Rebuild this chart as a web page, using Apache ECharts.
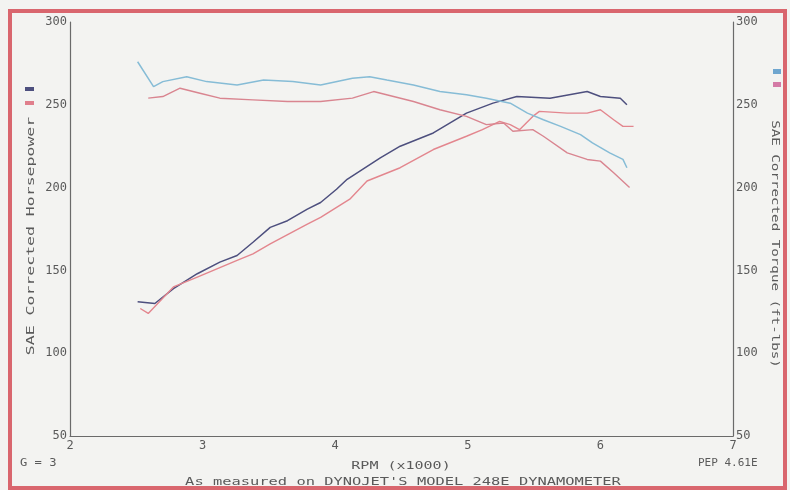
<!DOCTYPE html>
<html><head><meta charset="utf-8">
<script src="https://cdn.jsdelivr.net/npm/echarts@6/dist/echarts.min.js"></script>
<style>html,body{margin:0;padding:0;background:#f3f3f1}#c{width:790px;height:490px}</style>
</head><body><div id="c"></div>
<script>
const xTicks = [2, 3, 4, 5, 6, 7];
const yTicks = [50, 100, 150, 200, 250, 300];

const hp1Rpm = [2.51, 2.64, 2.78, 2.96, 3.13, 3.26, 3.38, 3.51, 3.64, 3.79, 3.89, 4.01, 4.09, 4.34, 4.49, 4.74, 4.99, 5.19, 5.37, 5.62, 5.90, 6.00, 6.15, 6.20];
const hp1Val = [131, 130, 139, 148, 155, 159, 167, 176, 180, 187, 191, 199, 205, 218, 225, 233, 245, 251, 255, 254, 258, 255, 254, 250];

const hp2Rpm = [2.53, 2.59, 2.78, 2.96, 3.26, 3.38, 3.51, 3.79, 3.89, 4.11, 4.24, 4.49, 4.74, 4.99, 5.11, 5.24, 5.32, 5.39, 5.49, 5.54, 5.75, 5.90, 6.00, 6.10, 6.17, 6.25];
const hp2Val = [127, 124, 140, 146, 156, 160, 166, 178, 182, 193, 204, 212, 223, 231, 235, 240, 238, 235, 243, 246, 245, 245, 247, 241, 237, 237];

const tq1Rpm = [2.51, 2.63, 2.70, 2.88, 3.03, 3.26, 3.46, 3.68, 3.89, 4.13, 4.26, 4.39, 4.59, 4.79, 4.99, 5.14, 5.32, 5.45, 5.57, 5.70, 5.85, 5.94, 6.07, 6.17, 6.20];
const tq1Val = [276, 261, 264, 267, 264, 262, 265, 264, 262, 266, 267, 265, 262, 258, 256, 254, 251, 245, 241, 237, 232, 227, 221, 217, 212];

const tq2Rpm = [2.59, 2.70, 2.83, 2.98, 3.13, 3.38, 3.64, 3.89, 4.13, 4.29, 4.44, 4.59, 4.79, 4.99, 5.14, 5.27, 5.34, 5.49, 5.57, 5.75, 5.90, 6.00, 6.10, 6.22];
const tq2Val = [254, 255, 260, 257, 254, 253, 252, 252, 254, 258, 255, 252, 247, 243, 238, 239, 234, 235, 231, 221, 217, 216, 209, 200];

const pair = (xs, ys) => xs.map((x, i) => [x, ys[i]]);
const F = 'DejaVu Sans Mono';
const TXT = '#5a5a5a';

const chart = echarts.init(document.getElementById('c'), null, {renderer: 'canvas'});
const yAxisBase = {
  type: 'value', min: 50, max: 300, interval: 50,
  axisLine: {show: true, lineStyle: {color: '#6a6a6a', width: 1.2}},
  axisTick: {show: false}, splitLine: {show: false},
  axisLabel: {fontFamily: F, fontSize: 12, color: TXT, margin: 3,
    formatter: v => yTicks.includes(v) ? String(v) : ''}
};
const line = (data, color, w) => ({
  type: 'line', data, showSymbol: false, symbol: 'none',
  lineStyle: {color, width: w || 1.3}, smooth: false, animation: false
});
const txt = (text, x, y, size, sx, rot, align) => ({
  type: 'text', x, y, rotation: rot || 0, scaleX: sx || 1,
  style: {text, fontFamily: F, fontSize: size, fill: TXT, align: align || 'center', verticalAlign: 'middle'}
});

chart.setOption({
  animation: false,
  backgroundColor: '#f3f3f1',
  grid: {left: 70, right: 57, top: 22, bottom: 54},
  xAxis: {
    type: 'value', min: 2, max: 7, interval: 1,
    axisLine: {show: true, lineStyle: {color: '#6a6a6a', width: 1.2}},
    axisTick: {show: false}, splitLine: {show: false},
    axisLabel: {fontFamily: F, fontSize: 12, color: TXT, margin: 4,
      formatter: v => xTicks.includes(v) ? String(v) : ''}
  },
  yAxis: [
    Object.assign({}, yAxisBase, {position: 'left'}),
    Object.assign({}, yAxisBase, {position: 'right'})
  ],
  series: [
    Object.assign(line(pair(hp1Rpm, hp1Val), '#4d4f7e', 1.5), {yAxisIndex: 0}),
    Object.assign(line(pair(hp2Rpm, hp2Val), '#e3868e', 1.4), {yAxisIndex: 0}),
    Object.assign(line(pair(tq1Rpm, tq1Val), '#86bcd6', 1.5), {yAxisIndex: 1}),
    Object.assign(line(pair(tq2Rpm, tq2Val), '#d98590', 1.4), {yAxisIndex: 1})
  ],
  graphic: [
    {type: 'rect', shape: {x: 10, y: 11, width: 775, height: 477}, style: {fill: 'none', stroke: '#d9666e', lineWidth: 4}, silent: true},
    {type: 'rect', shape: {x: 25, y: 87, width: 9, height: 4}, style: {fill: '#4d4f7e'}},
    {type: 'rect', shape: {x: 25, y: 101, width: 9, height: 4}, style: {fill: '#e07f8c'}},
    {type: 'rect', shape: {x: 773, y: 69, width: 8, height: 5}, style: {fill: '#6fa6cf'}},
    {type: 'rect', shape: {x: 773, y: 82, width: 8, height: 5}, style: {fill: '#d47aa6'}},
    txt('SAE Corrected Horsepower', 31, 236, 11, 1.5, Math.PI / 2),
    txt('SAE Corrected Torque (ft-lbs)', 775, 244, 11, 1.29, -Math.PI / 2),
    txt('RPM (x1000)', 401, 466, 10, 1.5),
    txt("As measured on DYNOJET'S MODEL 248E DYNAMOMETER", 403, 482, 11, 1.4),
    txt('G = 3', 20, 463, 11, 1.1, 0, 'left'),
    txt('PEP 4.61E', 698, 463, 11, 1.0, 0, 'left')
  ]
});
</script></body></html>
